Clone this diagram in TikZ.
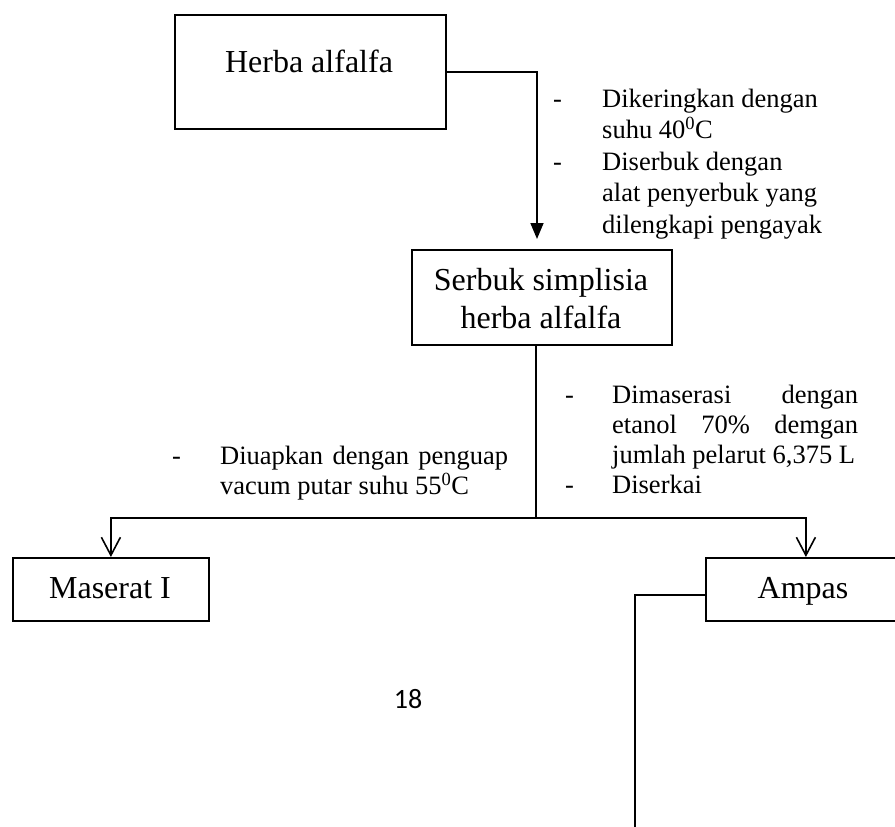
\documentclass[tikz,border=0pt]{standalone}
\usepackage{fontspec}
\setmainfont{Liberation Serif}
\newfontfamily\pagefont{Carlito}
\usetikzlibrary{arrows.meta}
\begin{document}
\begin{tikzpicture}[x=1pt,y=-1pt,
  box/.style={draw, line width=1.8pt, inner sep=0pt, anchor=north west},
  conn/.style={line width=1.6pt},
  thinconn/.style={line width=1.3pt},
  bigtxt/.style={inner sep=0pt, font=\fontsize{32}{38}\selectfont},
  annot/.style={inner sep=0pt, anchor=base west},
  filltip/.style={-{Triangle[length=16pt,width=13pt]}},
  opentip/.style={-{Straight Barb[length=18pt,width=19pt]}}
]
\clip (0,0) rectangle (895,827);
\fill[white] (0,0) rectangle (895,827);

% boxes
\node[box, minimum width=271pt, minimum height=114pt] (herba) at (174,14) {};
\node[box, minimum width=260pt, minimum height=95pt] (serbuk) at (411,249) {};
\node[box, minimum width=196pt, minimum height=63pt] (maserat) at (12,557) {};
\node[box, minimum width=200pt, minimum height=63pt] (ampas) at (705,557) {};

% box texts
\node[bigtxt, anchor=base] (herbaT) at (309,72) {Herba alfalfa};
\node[bigtxt, anchor=base, align=center] (serbukT) at (541,328) {Serbuk simplisia\\herba alfalfa};
\node[bigtxt, anchor=base] (maseratT) at (110,598) {Maserat I};
\node[bigtxt, anchor=base] (ampasT) at (803,598) {Ampas};

% annotations
\node[annot] (ann1) at (553,107) {\fontsize{26.5}{31.5}\selectfont
  \begin{tabular}[t]{@{}p{49pt}@{}l@{}}
  - & Dikeringkan dengan\\
    & suhu 40\textsuperscript{0}C\\
  - & Diserbuk dengan\\
    & alat penyerbuk yang\\
    & dilengkapi pengayak
  \end{tabular}};
\node[annot] (ann2) at (565,403) {\fontsize{26.5}{30.3}\selectfont
  \begin{tabular}[t]{@{}p{47pt}@{}l@{}}
  - & \makebox[246pt][s]{Dimaserasi\hfill dengan}\\
    & \makebox[246pt][s]{etanol\hfill 70\%\hfill demgan}\\
    & jumlah pelarut 6,375 L\\
  - & Diserkai
  \end{tabular}};
\node[annot] (ann3) at (172,464) {\fontsize{26.5}{30.3}\selectfont
  \begin{tabular}[t]{@{}p{48pt}@{}l@{}}
  - & \makebox[288pt][s]{Diuapkan\hfill dengan\hfill penguap}\\
    & vacum putar suhu 55\textsuperscript{0}C
  \end{tabular}};

% page number
\node[inner sep=0pt, anchor=base, font=\pagefont\fontsize{28}{30}\selectfont] (pg) at (408,708) {18};

% connectors
\coordinate (t1) at (537,239);
\draw[conn, filltip] (herba.east) -| (t1);

\coordinate (j) at (536,518);
\draw[conn] (serbuk.south -| j) -- (j);
\draw[conn, opentip] (j) -| (maserat.north);
\draw[conn, opentip] (j) -| (ampas.north);

\coordinate (c3) at (635,830);
\draw[thinconn] ([yshift=-5.5pt]ampas.west) -| (c3);
\end{tikzpicture}
\end{document}
